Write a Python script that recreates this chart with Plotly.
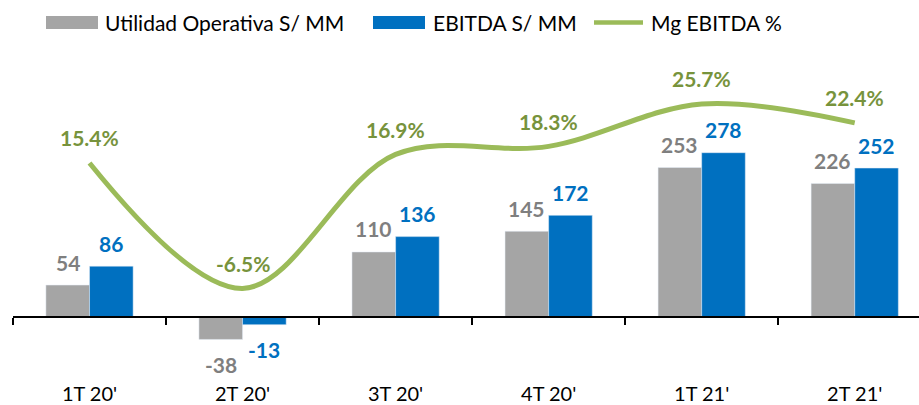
import plotly.graph_objects as go

categories = ["1T 20'", "2T 20'", "3T 20'", "4T 20'", "1T 21'", "2T 21'"]
utilidad = [54, -38, 110, 145, 253, 226]
ebitda = [86, -13, 136, 172, 278, 252]
margen = [15.4, -6.5, 16.9, 18.3, 25.7, 22.4]

legend_names = ["Utilidad Operativa S/ MM", "EBITDA S/ MM", "Mg EBITDA %"]

GRAY = "#A5A5A5"
BLUE = "#0070C0"
GREEN = "#9BBB59"
GRAY_TXT = "#7F7F7F"
GREEN_TXT = "#77933C"
FONT = "Lato"

W, H = 919, 405
ML, MR, MT, MB = 13, 0, 40, 60
PW, PH = W - ML - MR, H - MT - MB
X_RANGE = [-0.5, 5.42]
Y_RANGE = [-47.4, 468.7]
Y2_RANGE = [-16.37, 36.86]
BARGAP = 0.43

catpx = PW / (X_RANGE[1] - X_RANGE[0])
barw = catpx * (1 - BARGAP) / 2
zero_pos = (0 - Y_RANGE[0]) / (Y_RANGE[1] - Y_RANGE[0])


def px(x):
    return (x - ML) / PW


def py(y):
    return (H - MB - y) / PH


fig = go.Figure()
fig.add_trace(go.Bar(x=categories, y=utilidad, name=legend_names[0],
                     marker=dict(color=GRAY), showlegend=False))
fig.add_trace(go.Bar(x=categories, y=ebitda, name=legend_names[1],
                     marker=dict(color=BLUE), showlegend=False))
fig.add_trace(go.Scatter(x=categories, y=margen, name=legend_names[2], yaxis="y2",
                         mode="lines", showlegend=False,
                         line=dict(color=GREEN, width=5, shape="spline", smoothing=1)))

ann = []
for c, u, e, m in zip(categories, utilidad, ebitda, margen):
    for v, sh, col in ((u, -barw / 2, GRAY_TXT), (e, barw / 2, BLUE)):
        ann.append(dict(x=c, y=v, xref="x", yref="y", text=str(v), showarrow=False,
                        xshift=sh, yshift=23 if v >= 0 else -25, yanchor="middle",
                        font=dict(family=FONT, size=21, color=col, weight="bold")))
    ann.append(dict(x=c, y=m, xref="x", yref="y2", text=f"{m:.1f}%", showarrow=False,
                    yshift=25, yanchor="middle",
                    font=dict(family=FONT, size=21, color=GREEN_TXT, weight="bold")))

# manual legend
shapes = [
    dict(type="rect", xref="paper", yref="paper", x0=px(46), x1=px(98), y0=py(29), y1=py(16),
         fillcolor=GRAY, line=dict(width=0)),
    dict(type="rect", xref="paper", yref="paper", x0=px(373), x1=px(425), y0=py(29), y1=py(16),
         fillcolor=BLUE, line=dict(width=0)),
    dict(type="line", xref="paper", yref="paper", x0=px(594), x1=px(643), y0=py(22.5), y1=py(22.5),
         line=dict(color=GREEN, width=4.5)),
]
for name, x0 in zip(legend_names, (103, 431, 649)):
    ann.append(dict(x=px(x0), y=py(22.5), xref="paper", yref="paper", text=name,
                    showarrow=False, xanchor="left", yanchor="middle",
                    font=dict(family=FONT, size=21, color="#000000")))

fig.update_layout(
    width=W, height=H,
    margin=dict(l=ML, r=MR, t=MT, b=MB),
    paper_bgcolor="white", plot_bgcolor="white",
    barmode="group", bargap=BARGAP, bargroupgap=0,
    showlegend=False,
    font=dict(family=FONT),
    annotations=ann, shapes=shapes,
    xaxis=dict(type="category", range=X_RANGE, anchor="free", position=zero_pos,
               showline=True, linecolor="#000000", linewidth=1.5,
               ticks="outside", ticklen=7, tickwidth=1.5, tickcolor="#000000",
               tickson="boundaries", ticklabelstandoff=59, showgrid=False,
               tickfont=dict(family=FONT, size=20, color="#000000")),
    yaxis=dict(range=Y_RANGE, visible=False, showgrid=False, zeroline=False),
    yaxis2=dict(range=Y2_RANGE, overlaying="y", visible=False, showgrid=False, zeroline=False),
)

fig.write_html("out.html", config={"displayModeBar": False},
               post_script="document.body.style.margin='0';document.body.style.overflow='hidden';")
